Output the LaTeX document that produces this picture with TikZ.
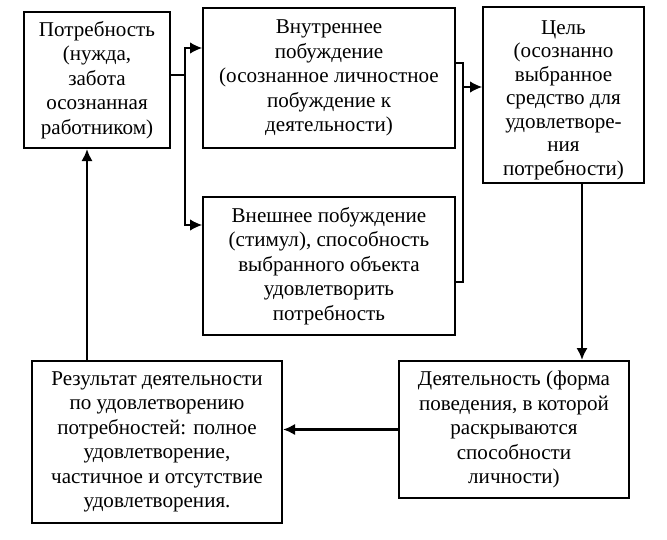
\documentclass[tikz,border=0pt]{standalone}
\usepackage{fontspec}
\setmainfont{Liberation Serif}
\usetikzlibrary{positioning,arrows.meta,calc}

\begin{document}
\begin{tikzpicture}[x=0.75pt,y=-0.75pt]
\tikzset{box/.style={draw,line width=1.5pt,align=center,inner sep=0pt,font=\fontsize{15.8}{18.4}\selectfont},
  link/.style={line width=0.8pt},
  flow/.style={line width=2.2pt},
  tip/.style={-{Latex[length=9pt,width=8.5pt]}}}
\useasboundingbox (0,0) rectangle (667,539);
% blocks
\node[box,minimum width=109.5pt,minimum height=102pt] (pot) at (97,80) {Потребность\\(нужда,\\забота\\осознанная\\работником)};
\node[box,minimum width=189pt,minimum height=105pt] (vn) at (329,78) {Внутреннее\\побуждение\\(осознанное личностное\\побуждение к\\деятельности)};
\node[box,minimum width=120.75pt,minimum height=132pt,font=\fontsize{15.8}{17.6}\selectfont] (cel) at (563.5,95) {\rule{0pt}{18pt}Цель\\(осознанно\\выбранное\\средство для\\удовлетворе-\\ния\\потребности)};
\node[box,minimum width=189pt,minimum height=103.5pt] (vs) at (329,266) {Внешнее побуждение\\(стимул), способность\\выбранного объекта\\удовлетворить\\потребность};
\node[box,minimum width=172.5pt,minimum height=102.75pt] (det) at (514,429.5) {Деятельность (форма\\поведения, в которой\\раскрываются\\способности\\личности)};
\node[box,minimum width=187.5pt,minimum height=121.5pt] (res) at (157,442) {Результат деятельности\\по удовлетворению\\потребностей: полное\\удовлетворение,\\частичное и отсутствие\\удовлетворения.};
% thin branches
\coordinate (busL) at (185,75);
\coordinate (busR) at (463,87);
\draw[link] (pot.east |- busL) -- (busL);
\draw[link,tip] (busL) |- (vn.west |- 0,48);
\draw[link,tip] (busL) |- (vs.west |- 0,225);
\draw[link] (vn.east |- 0,63) -| (busR);
\draw[link] (vs.east |- 0,282) -| (busR);
\draw[link,tip] (busR) -- (cel.west |- busR);
% thick flow
\draw[flow,tip] (cel.south -| 582,0) -- (det.north -| 582,0);
\draw[flow,tip] (det.west) -- (res.east |- det.west);
\draw[flow,tip] (res.north -| 87,0) -- (pot.south -| 87,0);
\end{tikzpicture}
\end{document}
